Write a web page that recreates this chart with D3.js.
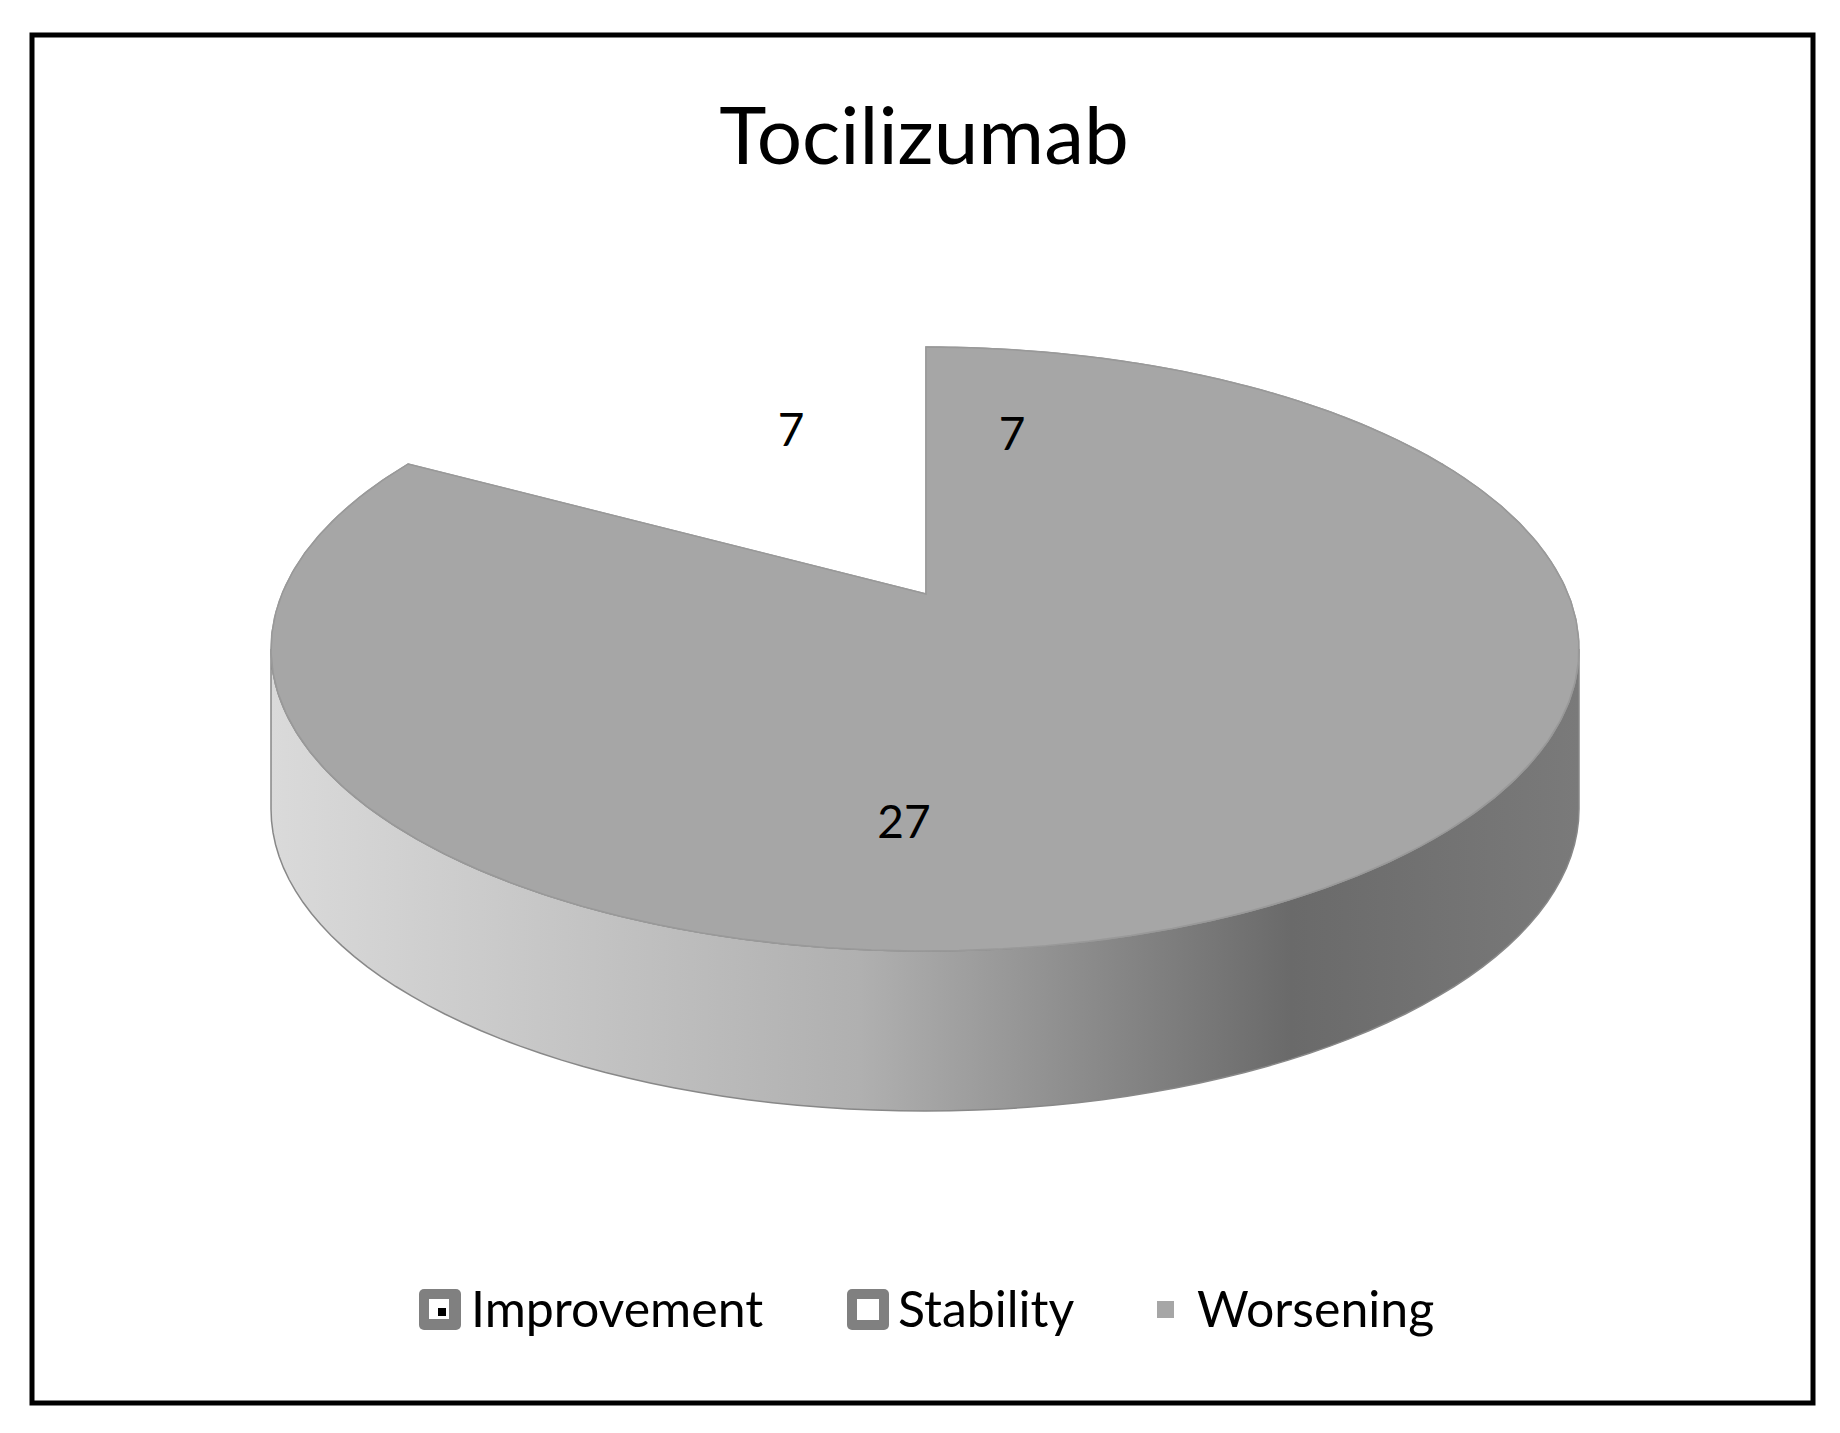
<!DOCTYPE html>
<html>
<head>
<script src="https://d3js.org/d3.v7.min.js"></script>
<style>body{margin:0;background:#fff;overflow:hidden}</style>
</head>
<body>
<script>
const categories = ["Improvement", "Stability", "Worsening"];
const values = [7, 27, 7];
const labelPos = [[1012, 450], [904, 838], [791, 446]];

const W = 1840, H = 1433;
const svg = d3.select("body").append("svg").attr("width", W).attr("height", H)
  .style("font-family", "Lato, 'Open Sans', sans-serif");
const defs = svg.append("defs");

const pat = defs.append("pattern").attr("id", "dots").attr("patternUnits", "userSpaceOnUse")
  .attr("width", 9).attr("height", 9);
pat.append("rect").attr("width", 9).attr("height", 9).attr("fill", "#fff");
pat.append("rect").attr("x", 1).attr("y", 1).attr("width", 3).attr("height", 3).attr("fill", "#444");
pat.append("rect").attr("x", 5.5).attr("y", 5.5).attr("width", 3).attr("height", 3).attr("fill", "#444");

const grad = defs.append("linearGradient").attr("id", "side").attr("x1", "0").attr("x2", "1");
[[0, "#dadada"], [0.45, "#b0b0b0"], [0.78, "#6a6a6a"], [1, "#7a7a7a"]]
  .forEach(([o, c]) => grad.append("stop").attr("offset", o).attr("stop-color", c));

svg.append("rect").attr("x", 32).attr("y", 35).attr("width", 1781).attr("height", 1368)
  .attr("fill", "#fff").attr("stroke", "#000").attr("stroke-width", 5);

svg.append("text").attr("x", 924).attr("y", 164).attr("text-anchor", "middle")
  .attr("font-size", 80).text("Tocilizumab");

const cx = 925, cy = 649, rx = 654, ry = 302, depth = 160;
const ax = 926, ay = 594;
const pt = (a, dy = 0) => [cx + rx * Math.sin(a), cy - ry * Math.cos(a) + dy];

// ellipse parameter where a ray from the apex at angle a meets the rim
function rimAngle(a) {
  const dx = Math.sin(a), dy = -Math.cos(a);
  const ox = (ax - cx) / rx, oy = (ay - cy) / ry;
  const A = dx * dx + dy * dy, B = 2 * (ox * dx + oy * dy), C = ox * ox + oy * oy - 1;
  const t = (-B + Math.sqrt(B * B - 4 * A * C)) / (2 * A);
  let phi = Math.atan2(ox + t * dx, -(oy + t * dy));
  if (phi < 0) phi += 2 * Math.PI;
  if (a >= 2 * Math.PI - 1e-9 && phi < 1e-6) phi = 2 * Math.PI;
  return phi;
}

function arcPts(a0, a1, dy = 0) {
  const n = 80, out = [];
  for (let i = 0; i <= n; i++) out.push(pt(a0 + (a1 - a0) * i / n, dy));
  return out;
}

// side band (front half)
const front = arcPts(Math.PI / 2, 3 * Math.PI / 2);
const frontLow = arcPts(3 * Math.PI / 2, Math.PI / 2, depth);
svg.append("path").attr("d", d3.line()(front.concat(frontLow)) + "Z")
  .attr("fill", "url(#side)").attr("stroke", "#888").attr("stroke-width", 1.5);

const fills = ["url(#dots)", "#fdfdfd", "#a6a6a6"];
const arcs = d3.pie().sort(null)(values);
arcs.forEach((d, i) => {
  const p0 = rimAngle(d.startAngle), p1 = rimAngle(d.endAngle);
  const pts = [[ax, ay]].concat(arcPts(p0, p1));
  svg.append("path").attr("d", d3.line()(pts) + "Z")
    .attr("fill", fills[i]).attr("stroke", "#999").attr("stroke-width", 1.5);
});

svg.selectAll(".lbl").data(arcs).join("text").attr("class", "lbl")
  .attr("x", (d, i) => labelPos[i][0]).attr("y", (d, i) => labelPos[i][1])
  .attr("text-anchor", "middle").attr("font-size", 46).text(d => d.data);

// legend
const lg = svg.append("g").attr("font-size", 50);
lg.append("rect").attr("x", 419).attr("y", 1289).attr("width", 42).attr("height", 41).attr("rx", 5).attr("fill", "#808080");
lg.append("rect").attr("x", 429).attr("y", 1299).attr("width", 20).attr("height", 20).attr("fill", "#fff");
lg.append("rect").attr("x", 438).attr("y", 1308).attr("width", 8).attr("height", 8).attr("fill", "#000");
lg.append("rect").attr("x", 847).attr("y", 1289).attr("width", 42).attr("height", 41).attr("rx", 5).attr("fill", "#808080");
lg.append("rect").attr("x", 857).attr("y", 1299).attr("width", 22).attr("height", 21).attr("fill", "#fff");
lg.append("rect").attr("x", 1157).attr("y", 1301).attr("width", 17).attr("height", 17).attr("fill", "#a6a6a6");
const lx = [471, 898, 1197];
lg.selectAll("text").data(categories).join("text")
  .attr("x", (d, i) => lx[i]).attr("y", 1327).text(d => d);
</script>
</body>
</html>
